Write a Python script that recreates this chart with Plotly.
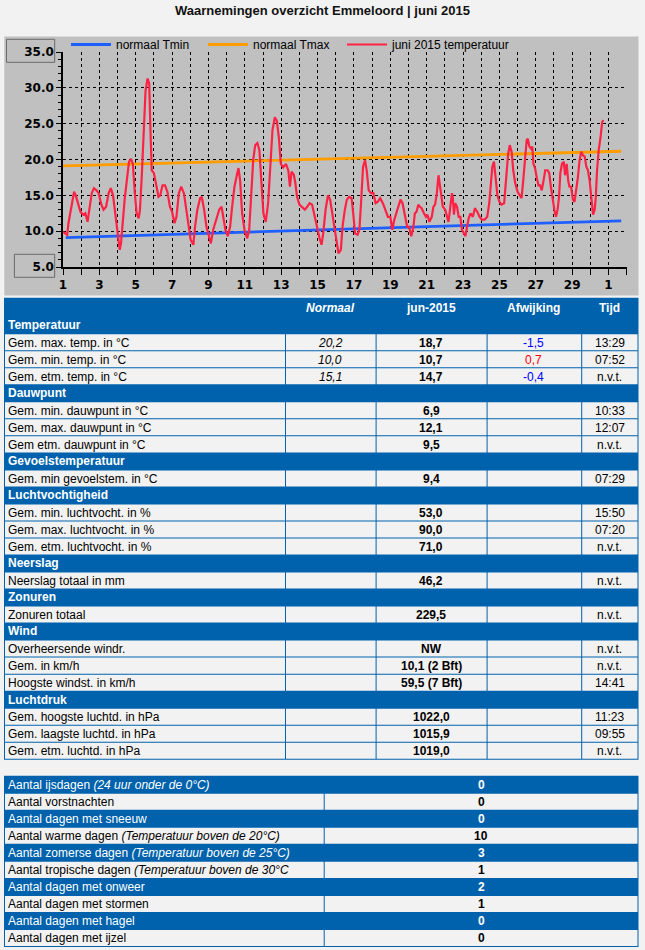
import plotly.graph_objects as go

# ---------------- chart data ----------------
june_day = [1.0, 1.09, 1.23, 1.3, 1.4, 1.53, 1.61, 1.7, 1.82, 1.96, 2.11, 2.23, 2.35, 2.44, 2.58, 2.7,
            2.84, 2.96, 3.11, 3.23, 3.37, 3.51, 3.63, 3.75, 3.89, 4.02, 4.12, 4.19, 4.28, 4.39, 4.51,
            4.63, 4.74, 4.84, 4.95, 5.05, 5.16, 5.23, 5.33, 5.44, 5.54, 5.65, 5.74, 5.81, 5.88, 6.0,
            6.14, 6.25, 6.35, 6.47, 6.61, 6.74, 6.88, 7.0, 7.13, 7.24, 7.37, 7.5, 7.65, 7.78, 7.89,
            8.02, 8.17, 8.26, 8.39, 8.54, 8.63, 8.76, 8.89, 9.04, 9.13, 9.26, 9.41, 9.59, 9.72, 9.83,
            9.93, 10.06, 10.19, 10.3, 10.43, 10.56, 10.65, 10.74, 10.85, 10.98, 11.13, 11.24, 11.35,
            11.46, 11.57, 11.69, 11.8, 11.91, 12.02, 12.15, 12.28, 12.41, 12.52, 12.65, 12.76, 12.87,
            12.98, 13.11, 13.26, 13.39, 13.48, 13.57, 13.69, 13.78, 13.87, 14.0, 14.15, 14.3, 14.43,
            14.56, 14.7, 14.85, 14.98, 15.11, 15.22, 15.31, 15.44, 15.57, 15.69, 15.81, 15.93, 16.04,
            16.15, 16.28, 16.37, 16.5, 16.61, 16.74, 16.87, 16.96, 17.06, 17.2, 17.3, 17.39, 17.5,
            17.61, 17.7, 17.81, 17.94, 18.07, 18.19, 18.31, 18.44, 18.59, 18.74, 18.87, 19.0, 19.11,
            19.22, 19.33, 19.44, 19.56, 19.67, 19.8, 19.93, 20.04, 20.15, 20.26, 20.35, 20.44, 20.54,
            20.63, 20.72, 20.85, 20.96, 21.04, 21.15, 21.28, 21.37, 21.46, 21.56, 21.65, 21.7, 21.78,
            21.89, 22.02, 22.11, 22.2, 22.3, 22.39, 22.44, 22.5, 22.57, 22.67, 22.76, 22.85, 22.94,
            23.04, 23.13, 23.22, 23.31, 23.41, 23.54, 23.65, 23.78, 23.91, 24.04, 24.19, 24.33, 24.44,
            24.52, 24.61, 24.7, 24.8, 24.89, 25.0, 25.11, 25.26, 25.37, 25.48, 25.57, 25.67, 25.76,
            25.87, 26.0, 26.11, 26.22, 26.31, 26.41, 26.5, 26.56, 26.65, 26.74, 26.81, 26.87, 26.96,
            27.06, 27.15, 27.24, 27.33, 27.43, 27.52, 27.65, 27.74, 27.83, 27.93, 28.02, 28.11, 28.2,
            28.28, 28.35, 28.44, 28.54, 28.61, 28.7, 28.78, 28.85, 28.94, 29.04, 29.13, 29.22, 29.31,
            29.41, 29.5, 29.59, 29.69, 29.78, 29.87, 29.96, 30.06, 30.15, 30.24, 30.3, 30.37, 30.46,
            30.56, 30.65, 30.72]
june_temp = [9.9, 9.7, 9.5, 11.1, 12.5, 13.9, 15.5, 15.0, 13.9, 12.7, 12.3, 12.5, 11.3, 12.7, 15.3, 16.0,
             15.7, 15.3, 13.7, 13.0, 13.4, 15.3, 16.0, 15.0, 12.0, 9.0, 7.4, 8.3, 11.3, 14.4, 17.1,
             19.7, 20.1, 19.4, 15.3, 12.5, 11.8, 12.9, 17.6, 24.1, 29.6, 31.3, 30.6, 24.1, 18.5, 18.1,
             16.2, 14.8, 15.0, 16.4, 16.4, 15.5, 13.4, 12.7, 11.1, 12.0, 15.3, 16.2, 15.3, 13.0, 10.6,
             8.8, 8.1, 10.6, 13.0, 14.6, 14.8, 13.0, 10.6, 9.0, 8.3, 10.2, 11.6, 13.0, 13.4, 12.0,
             10.2, 9.3, 10.6, 13.4, 16.2, 17.8, 18.8, 17.1, 12.5, 10.2, 9.0, 10.2, 15.7,
             19.9, 22.0, 22.3, 21.3, 16.7, 12.5, 11.3, 13.9, 19.4, 24.1, 25.9, 25.4, 23.1,
             19.4, 18.9, 19.4, 18.5, 16.2, 18.3, 17.9, 16.7, 14.8, 13.7, 13.4, 13.0, 13.4,
             13.9, 13.7, 12.0, 10.2, 9.0, 8.1, 9.7, 13.0, 15.0, 14.4, 12.5, 10.6, 8.3,
             6.9, 7.4, 10.6, 13.0, 14.4, 14.8, 14.6, 12.5, 9.7, 9.5, 10.2, 13.9, 19.0,
             19.9, 18.5, 15.7, 15.3, 15.3, 13.9, 14.1, 14.6, 13.9, 13.0, 12.0, 12.0, 10.2,
             11.6, 12.5, 13.4, 14.4, 13.9, 12.0, 10.6, 10.6, 9.3, 10.4, 12.5, 12.7, 13.7,
             13.4, 13.2, 12.5, 12.0, 12.3, 11.3, 12.0, 13.4, 13.7, 15.3, 17.8, 16.9, 14.8,
             13.4, 13.0, 12.0, 11.3, 13.4, 15.3, 14.6, 12.3, 13.9, 13.4, 12.0, 12.0, 10.2,
             9.7, 9.3, 10.6, 11.8, 12.5, 12.0, 13.2, 12.7, 12.0, 11.6, 11.6, 12.0, 13.9,
             16.7, 19.0, 19.7, 17.6, 15.0, 14.1, 13.7, 13.9, 17.1, 20.8, 22.0, 21.1, 18.5,
             16.7, 15.5, 15.0, 14.6, 17.1, 20.6, 22.7, 22.9, 21.8, 21.5, 21.8, 19.4, 18.8,
             17.4, 16.4, 16.4, 15.7, 17.1, 18.5, 18.5, 18.1, 16.2, 14.4, 13.0, 12.0, 13.0,
             14.8, 18.1, 19.4, 19.7, 17.8, 19.4, 17.1, 16.2, 16.2, 14.4, 14.1, 15.7, 17.4,
             19.9, 21.1, 20.6, 20.4, 19.0, 18.5, 17.1, 14.4, 12.3, 13.0, 14.8, 18.5, 21.3,
             23.1, 25.2, 25.5]
tmin_day = [1.15, 16.0, 31.7]
tmin_val = [9.1, 10.27, 11.45]
tmax_day = [1.0, 16.0, 31.7]
tmax_val = [19.1, 20.13, 21.15]
series_names = ["normaal Tmin", "normaal Tmax", "juni 2015 temperatuur"]
x_tick_days = list(range(1, 33))
x_tick_labels = ["1", "", "3", "", "5", "", "7", "", "9", "", "11", "", "13", "", "15", "",
                 "17", "", "19", "", "21", "", "23", "", "25", "", "27", "", "29", "", "1", ""]
y_tick_vals = [5, 10, 15, 20, 25, 30, 35]
y_tick_labels = ["5.0", "10.0", "15.0", "20.0", "25.0", "30.0", "35.0"]
chart_title = "Waarnemingen overzicht Emmeloord | juni 2015"

# ---------------- table data ----------------
table_headers = ["Normaal", "jun-2015", "Afwijking", "Tijd"]
sections = ["Temperatuur", "Dauwpunt", "Gevoelstemperatuur", "Luchtvochtigheid",
            "Neerslag", "Zonuren", "Wind", "Luchtdruk"]
section_sizes = [3, 3, 1, 3, 1, 1, 3, 3]
row_labels = ["Gem. max. temp. in °C", "Gem. min. temp. in °C", "Gem. etm. temp. in °C",
              "Gem. min. dauwpunt in °C", "Gem. max. dauwpunt in °C", "Gem etm. dauwpunt in °C",
              "Gem. min gevoelstem. in °C",
              "Gem. min. luchtvocht. in %", "Gem. max. luchtvocht. in %", "Gem. etm. luchtvocht. in %",
              "Neerslag totaal in mm",
              "Zonuren totaal",
              "Overheersende windr.", "Gem. in km/h", "Hoogste windst. in km/h",
              "Gem. hoogste luchtd. in hPa", "Gem. laagste luchtd. in hPa", "Gem. etm. luchtd. in hPa"]
normal_values = ["20,2", "10,0", "15,1"] + [""] * 15
month_values = ["18,7", "10,7", "14,7", "6,9", "12,1", "9,5", "9,4", "53,0", "90,0", "71,0",
                "46,2", "229,5", "NW", "10,1 (2 Bft)", "59,5 (7 Bft)", "1022,0", "1015,9", "1019,0"]
deviation_values = ["-1,5", "0,7", "-0,4"] + [""] * 15
time_values = ["13:29", "07:52", "n.v.t.", "10:33", "12:07", "n.v.t.", "07:29", "15:50", "07:20",
               "n.v.t.", "n.v.t.", "n.v.t.", "n.v.t.", "n.v.t.", "14:41", "11:23", "09:55", "n.v.t."]

count_labels = ["Aantal ijsdagen", "Aantal vorstnachten", "Aantal dagen met sneeuw",
                "Aantal warme dagen", "Aantal zomerse dagen", "Aantal tropische dagen",
                "Aantal dagen met onweer", "Aantal dagen met stormen", "Aantal dagen met hagel",
                "Aantal dagen met ijzel"]
count_notes = ["(24 uur onder de 0°C)", "", "", "(Temperatuur boven de 20°C)",
               "(Temperatuur boven de 25°C)", "(Temperatuur boven de 30°C", "", "", "", ""]
count_values = [0, 0, 0, 10, 3, 1, 2, 1, 0, 0]

# ---------------- styling ----------------
W, H = 645, 950
PAGE = "#f2f2f2"
PANEL = "#c0c0c0"
TBLUE = "#0062ac"
CELL = "#f2f2f2"
TXT = "Arial, 'Liberation Sans', sans-serif"
TICKF = "'DejaVu Sans', Verdana, sans-serif"
LINE_COLORS = ["#1f5eff", "#ff9c00", "#ff2244"]
LEGEND_TEXT_X = [116, 253, 392]


def py(p):
    return 1 - p / H


fig = go.Figure()
fig.add_trace(go.Scatter(x=tmin_day, y=tmin_val, mode="lines", name=series_names[0], legend="legend",
                         line=dict(color=LINE_COLORS[0], width=2.8)))
fig.add_trace(go.Scatter(x=tmax_day, y=tmax_val, mode="lines", name=series_names[1], legend="legend2",
                         line=dict(color=LINE_COLORS[1], width=2.8)))
fig.add_trace(go.Scatter(x=june_day, y=june_temp, mode="lines", name=series_names[2], legend="legend3",
                         line=dict(color=LINE_COLORS[2], width=2.2)))
fig.add_trace(go.Scatter(x=[], y=[], xaxis="x2", yaxis="y2", showlegend=False, hoverinfo="skip"))

shapes = []
annotations = []

shapes.append(dict(type="rect", xref="paper", yref="paper", x0=4.3 / W, x1=638.5 / W,
                   y0=py(295.5), y1=py(36.5), fillcolor=PANEL, line=dict(width=0), layer="below"))
shapes.append(dict(type="rect", xref="paper", yref="paper", x0=6.5 / W, x1=54.7 / W,
                   y0=py(62.3), y1=py(39.3), line=dict(color="#6a6a6a", width=1)))
shapes.append(dict(type="rect", xref="paper", yref="paper", x0=14.4 / W, x1=54.7 / W,
                   y0=py(277.3), y1=py(254.3), line=dict(color="#6a6a6a", width=1)))

annotations.append(dict(xref="paper", yref="paper", x=322.5 / W, y=py(10), text="<b>" + chart_title + "</b>",
                        showarrow=False, xanchor="center", yanchor="middle",
                        font=dict(family=TXT, size=13, color="#111111")))

BU = 1 / 17.02
cols = [4, 285, 375.6, 486.6, 581.2, 638.5]
col_centers = [(cols[i] + cols[i + 1]) / 2 for i in range(1, 5)]

shapes.append(dict(type="rect", xref="x2", yref="y2", x0=cols[0], x1=cols[-1], y0=-1.1,
                   y1=sum(section_sizes) + len(sections) + BU, fillcolor=TBLUE, line=dict(width=0)))
for txt, cx in zip(table_headers, col_centers):
    t = "<b><i>" + txt + "</i></b>" if txt == "Normaal" else "<b>" + txt + "</b>"
    annotations.append(dict(xref="x2", yref="y2", x=cx, y=-0.5, text=t, showarrow=False,
                            xanchor="center", yanchor="middle", font=dict(family=TXT, size=12, color="white")))

r = 0
k = 0
for s, n in zip(sections, section_sizes):
    annotations.append(dict(xref="x2", yref="y2", x=6, y=r + 0.52, text="<b>" + s + "</b>", showarrow=False,
                            xanchor="left", yanchor="middle", font=dict(family=TXT, size=12, color="white")))
    r += 1
    for _ in range(n):
        for j in range(5):
            x0 = cols[j] + 1
            x1 = cols[j + 1] - (1 if j == 4 else 0)
            shapes.append(dict(type="rect", xref="x2", yref="y2", x0=x0, x1=x1, y0=r + BU, y1=r + 1,
                               fillcolor=CELL, line=dict(width=0)))
        yc = r + 0.55
        annotations.append(dict(xref="x2", yref="y2", x=6, y=yc, text=row_labels[k], showarrow=False,
                                xanchor="left", yanchor="middle", font=dict(family=TXT, size=12, color="black")))
        if normal_values[k]:
            annotations.append(dict(xref="x2", yref="y2", x=col_centers[0], y=yc, text="<i>" + normal_values[k] + "</i>",
                                    showarrow=False, xanchor="center", yanchor="middle",
                                    font=dict(family=TXT, size=12, color="black")))
        annotations.append(dict(xref="x2", yref="y2", x=col_centers[1], y=yc, text="<b>" + month_values[k] + "</b>",
                                showarrow=False, xanchor="center", yanchor="middle",
                                font=dict(family=TXT, size=12, color="black")))
        if deviation_values[k]:
            dcol = "#0000ff" if deviation_values[k].startswith("-") else "#ff0000"
            annotations.append(dict(xref="x2", yref="y2", x=col_centers[2], y=yc, text=deviation_values[k],
                                    showarrow=False, xanchor="center", yanchor="middle",
                                    font=dict(family=TXT, size=12, color=dcol)))
        annotations.append(dict(xref="x2", yref="y2", x=col_centers[3], y=yc, text=time_values[k],
                                showarrow=False, xanchor="center", yanchor="middle",
                                font=dict(family=TXT, size=12, color="black")))
        r += 1
        k += 1

start = r + 1
bcols = [4, 323.7, 638.5]
shapes.append(dict(type="rect", xref="x2", yref="y2", x0=bcols[0], x1=bcols[-1], y0=start,
                   y1=start + len(count_labels) + BU, fillcolor=TBLUE, line=dict(width=0)))
for i, (lab, note, val) in enumerate(zip(count_labels, count_notes, count_values)):
    rr = start + i
    light = (i % 2 == 1)
    fc = "black" if light else "white"
    if light:
        shapes.append(dict(type="rect", xref="x2", yref="y2", x0=bcols[0] + 1, x1=bcols[1],
                           y0=rr + BU, y1=rr + 1, fillcolor=CELL, line=dict(width=0)))
        shapes.append(dict(type="rect", xref="x2", yref="y2", x0=bcols[1] + 1, x1=bcols[2] - 1,
                           y0=rr + BU, y1=rr + 1, fillcolor=CELL, line=dict(width=0)))
    t = lab + (" <i>" + note + "</i>" if note else "")
    annotations.append(dict(xref="x2", yref="y2", x=6, y=rr + 0.55, text=t, showarrow=False,
                            xanchor="left", yanchor="middle", font=dict(family=TXT, size=12, color=fc)))
    annotations.append(dict(xref="x2", yref="y2", x=(bcols[1] + bcols[2]) / 2, y=rr + 0.55,
                            text="<b>" + str(val) + "</b>", showarrow=False, xanchor="center",
                            yanchor="middle", font=dict(family=TXT, size=12, color=fc)))

y2_max = start + len(count_labels) + 0.1
y2_bottom_px = 297.5 + (y2_max + 1.1) * 17.02


def legend_at(text_x):
    return dict(orientation="h", x=(text_x - 50) / W, y=py(30), xanchor="left", yanchor="top",
                bgcolor="rgba(0,0,0,0)", font=dict(family=TXT, size=12, color="black"),
                itemwidth=40)


fig.update_layout(
    width=W, height=H, autosize=False,
    margin=dict(l=0, r=0, t=0, b=0, pad=0, autoexpand=False),
    paper_bgcolor=PAGE, plot_bgcolor="rgba(0,0,0,0)",
    showlegend=True,
    legend=legend_at(LEGEND_TEXT_X[0]),
    legend2=legend_at(LEGEND_TEXT_X[1]),
    legend3=legend_at(LEGEND_TEXT_X[2]),
    xaxis=dict(domain=[63 / W, 626.7 / W], range=[1, 32], anchor="y", automargin=False,
               tickmode="array", tickvals=x_tick_days, ticktext=x_tick_labels,
               showgrid=True, gridcolor="black", griddash="3px,3px", gridwidth=1,
               ticks="outside", ticklen=6, tickcolor="black", tickwidth=1,
               showline=True, linecolor="black", linewidth=1.5, zeroline=False,
               tickfont=dict(family=TICKF, size=12, color="black", weight="bold")),
    yaxis=dict(domain=[py(267), py(52)], range=[5, 35], anchor="x", automargin=False,
               tickmode="array", tickvals=y_tick_vals, ticktext=y_tick_labels,
               showgrid=True, gridcolor="black", griddash="3px,3px", gridwidth=1,
               ticks="outside", ticklen=5, tickcolor="black", tickwidth=1,
               minor=dict(tick0=5, dtick=1, ticks="outside", ticklen=3, tickcolor="black", showgrid=False),
               showline=True, linecolor="black", linewidth=1.5, zeroline=False,
               tickfont=dict(family=TICKF, size=12, color="black", weight="bold")),
    xaxis2=dict(domain=[0, 1], range=[0, W], anchor="y2", visible=False, fixedrange=True, automargin=False),
    yaxis2=dict(domain=[py(y2_bottom_px), py(297.5)], range=[y2_max, -1.1], anchor="x2",
                visible=False, fixedrange=True, automargin=False),
    shapes=shapes,
    annotations=annotations,
)

fig.write_html(
    "out.html",
    config={"displayModeBar": False},
    post_script=("document.documentElement.style.margin='0px';"
                 "document.body.style.margin='0px';document.body.style.padding='0px';"
                 "document.body.style.overflow='hidden';"),
)
